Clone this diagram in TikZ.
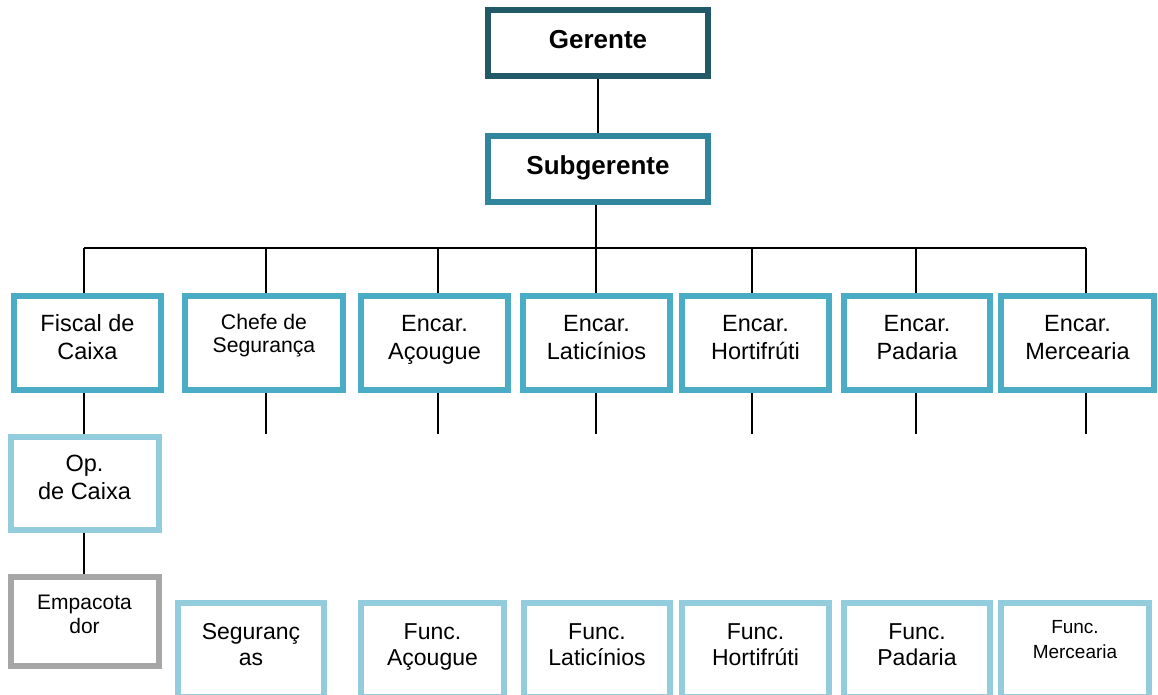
\documentclass[tikz,border=0pt]{standalone}
\usepackage{fontspec}
\setmainfont{Liberation Sans}
\usetikzlibrary{graphs}

\definecolor{tealdark}{HTML}{215968}
\definecolor{tealmid}{HTML}{31859C}
\definecolor{tealbox}{HTML}{4BACC6}
\definecolor{teallight}{HTML}{93CDDD}
\definecolor{greybox}{HTML}{A6A6A6}

\begin{document}
\begin{tikzpicture}
	% Styles
	[
	x=1pt, y=-1pt,
	box/.style={rectangle,draw=#1,line width=6pt,fill=white,inner sep=0pt,align=center},
	head/.style={box=#1,minimum width=220pt,minimum height=66pt,font=\fontsize{26}{31}\selectfont\bfseries,text height=18.6pt,text depth=7.5pt},
	encar/.style={box=tealbox,minimum width=#1,minimum height=94pt,font=\fontsize{23.5}{27.6}\selectfont,text height=44.6pt,text depth=12pt},
	func/.style={box=teallight,minimum width=#1,minimum height=94pt,font=\fontsize{23}{26}\selectfont,text height=42.5pt,text depth=12.5pt},
	link/.style={line width=1.5pt},
	]

	\useasboundingbox (0,0) rectangle (1158,695);
	\clip (0,0) rectangle (1158,695);

	% Nodes
	\node at (598,43)	(ger)	[head=tealdark] {Gerente};
	\node at (598,169)	(sub)	[head=tealmid] {Subgerente};

	\node at (87.5,343)	(fisc)	[encar=147pt] {Fiscal de\\Caixa};
	\node at (264,343)	(chefe)	[encar=158pt,font=\fontsize{21.2}{23.4}\selectfont,text height=38.6pt,text depth=19.2pt] {Chefe de\\Segurança};
	\node at (434.5,343)	(acou)	[encar=147pt] {Encar.\\Açougue};
	\node at (596.5,343)	(lat)	[encar=147pt] {Encar.\\Laticínios};
	\node at (755.5,343)	(hort)	[encar=147pt] {Encar.\\Hortifrúti};
	\node at (917,343)	(pad)	[encar=146pt] {Encar.\\Padaria};
	\node at (1077.5,343)	(merc)	[encar=153pt] {Encar.\\Mercearia};

	\node at (84.5,483.5)	(opc)	[func=148pt,minimum height=93pt,font=\fontsize{23.5}{27.6}\selectfont,text height=44.6pt,text depth=13pt] {Op.\\de Caixa};
	\node at (84.5,621.5)	(emp)	[box=greybox,minimum width=148pt,minimum height=89pt,font=\fontsize{21}{24}\selectfont,text height=39pt,text depth=15.4pt] {Empacota\\dor};

	\node at (251,650)	(fseg)	[func=146pt] {Seguranç\\as};
	\node at (432.5,650)	(facou)	[func=143pt] {Func.\\Açougue};
	\node at (597,650)	(flat)	[func=146pt] {Func.\\Laticínios};
	\node at (755.5,650)	(fhort)	[func=147pt] {Func.\\Hortifrúti};
	\node at (917,650)	(fpad)	[func=146pt] {Func.\\Padaria};
	\node at (1075,650)	(fmerc)	[func=148pt,font=\fontsize{19}{25}\selectfont,text height=38.4pt,text depth=21.8pt] {Func.\\Mercearia};

	% Bus
	\coordinate (b1) at (84,248);
	\coordinate (b2) at (266,248);
	\coordinate (b3) at (438,248);
	\coordinate (b4) at (596,248);
	\coordinate (b5) at (752,248);
	\coordinate (b6) at (916,248);
	\coordinate (b7) at (1086,248);

	% Connections
	\graph[use existing nodes, edges={link}] {
		ger -- sub;
	};
	\draw[link] (b1 |- opc.south) -- (b1 |- emp.north);
	\draw[link] (b4 |- sub.south) -- (b4);
	\draw[link] (b1) -- (b7);
	\foreach \b/\n in {b1/fisc,b2/chefe,b3/acou,b4/lat,b5/hort,b6/pad,b7/merc}
		\draw[link] (\b) -- (\b |- \n.north) (\b |- \n.south) -- (\b |- opc.north);

\end{tikzpicture}
\end{document}
